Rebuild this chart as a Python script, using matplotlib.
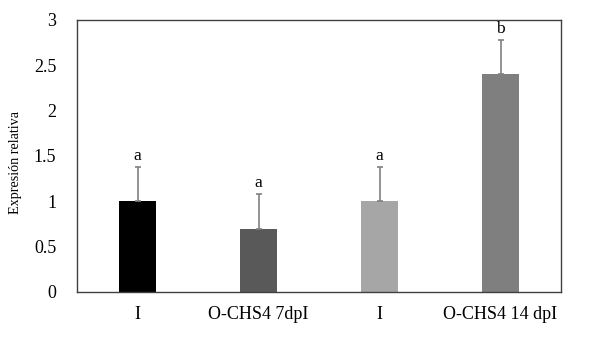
import matplotlib
matplotlib.use("Agg")
import matplotlib.pyplot as plt

categories = ["I", "O-CHS4 7dpI", "I", "O-CHS4 14 dpI"]
values = [1.0, 0.7, 1.0, 2.4]
errors = [0.38, 0.38, 0.38, 0.38]
letters = ["a", "a", "a", "b"]
colors = ["#000000", "#595959", "#a6a6a6", "#7f7f7f"]
yticks = [0, 0.5, 1, 1.5, 2, 2.5, 3]
yticklabels = ["0", "0.5", "1", "1.5", "2", "2.5", "3"]

plt.rcParams['font.family'] = ['Liberation Serif', 'DejaVu Serif']

fig = plt.figure(figsize=(5.9, 3.42), dpi=100)
ax = fig.add_axes([77/590, 1-292/342, (561-77)/590, (292-20)/342])

x = [i + 0.5 for i in range(len(categories))]
ax.bar(x, values, width=0.31, color=colors, zorder=2)
ax.errorbar(x, values, yerr=[[0]*len(values), errors], fmt='none',
            ecolor='#808080', elinewidth=1.2, capsize=2.5, capthick=1.2, zorder=3)
for xi, v, e, l in zip(x, values, errors, letters):
    ax.text(xi, v + e + 0.03, l, ha='center', va='bottom', fontsize=12.5)

ax.set_xlim(0, 4)
ax.set_ylim(0, 3)
ax.set_xticks(x)
ax.set_xticklabels(categories, fontsize=13)
ax.set_yticks(yticks)
ax.set_yticklabels(yticklabels, fontsize=13)
ax.tick_params(length=0)
ax.tick_params(axis='y', pad=15)
ax.tick_params(axis='x', pad=10)
for s in ax.spines.values():
    s.set_color('#404040')
    s.set_linewidth(1.0)
ax.set_ylabel("Expresión relativa", fontsize=10.2)
ax.yaxis.set_label_coords(-(77-15)/484, (292-163)/272)
ax.yaxis.label.set_va('center')

fig.savefig("out.png", dpi=100)
